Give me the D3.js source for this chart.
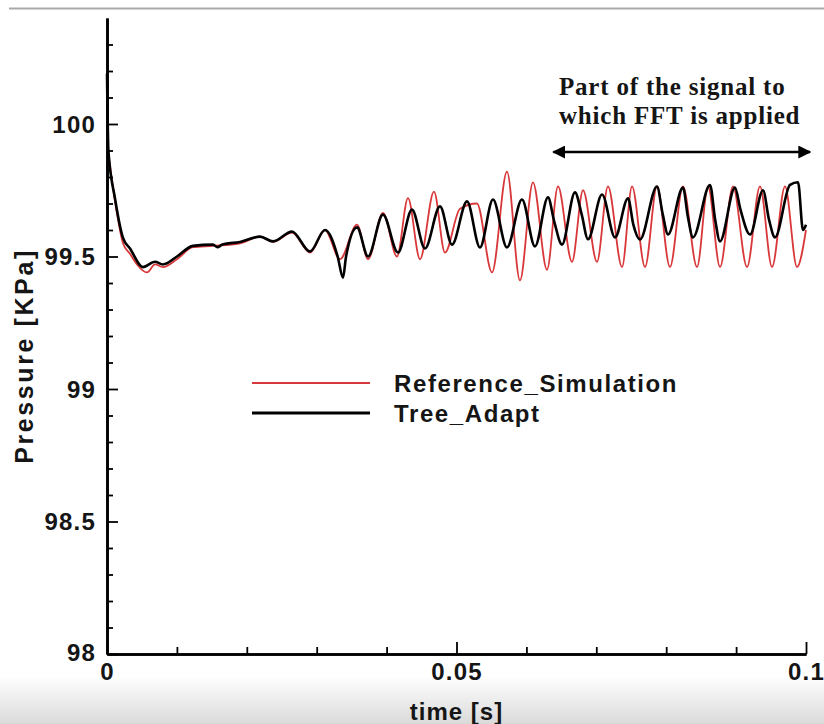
<!DOCTYPE html>
<html>
<head>
<meta charset="utf-8">
<script src="https://cdn.jsdelivr.net/npm/d3@7"></script>
<style>
  html, body { margin: 0; padding: 0; background: #fff; }
  svg { display: block; }
</style>
</head>
<body>
<script>
// ---- data ----
const refTime = [0, 0.00114, 0.00229, 0.00329, 0.00429, 0.00572, 0.00687, 0.00801, 0.01001, 0.0123, 0.01516, 0.01903, 0.02189, 0.02375, 0.02647, 0.02904, 0.03119, 0.03333, 0.03577, 0.03734, 0.03948, 0.04149, 0.04306, 0.04478, 0.04678, 0.04835, 0.0505, 0.05293, 0.05508, 0.05722, 0.05908, 0.06094, 0.06295, 0.06452, 0.06652, 0.0681, 0.0701, 0.07167, 0.07368, 0.07511, 0.07697, 0.07868, 0.08054, 0.0824, 0.08441, 0.08598, 0.0877, 0.08956, 0.09156, 0.09342, 0.09514, 0.097, 0.09871, 0.1];
const refPressure = [99.93, 99.71, 99.55, 99.51, 99.47, 99.44, 99.47, 99.46, 99.49, 99.535, 99.54, 99.55, 99.575, 99.555, 99.59, 99.515, 99.6, 99.49, 99.62, 99.49, 99.665, 99.5, 99.72, 99.49, 99.745, 99.515, 99.68, 99.7, 99.44, 99.82, 99.41, 99.78, 99.45, 99.765, 99.48, 99.75, 99.48, 99.765, 99.46, 99.765, 99.46, 99.765, 99.46, 99.765, 99.46, 99.765, 99.46, 99.765, 99.46, 99.765, 99.46, 99.765, 99.46, 99.6];

const treeTime = [0, 0.0002, 0.00114, 0.00229, 0.00329, 0.00515, 0.00687, 0.00801, 0.01001, 0.0123, 0.01516, 0.0158, 0.0165, 0.01903, 0.02189, 0.02375, 0.02647, 0.02904, 0.03119, 0.033, 0.03376, 0.0342, 0.03577, 0.03734, 0.03948, 0.04163, 0.04363, 0.04549, 0.04764, 0.04936, 0.0515, 0.05336, 0.05522, 0.05722, 0.05937, 0.06123, 0.06309, 0.0640, 0.06509, 0.06695, 0.06790, 0.06881, 0.07082, 0.07268, 0.07454, 0.0753, 0.07625, 0.07868, 0.0795, 0.08026, 0.0824, 0.0831, 0.08383, 0.08627, 0.0870, 0.0877, 0.08984, 0.0906, 0.09199, 0.09385, 0.0947, 0.09557, 0.09771, 0.09886, 0.09957, 0.1];
const treePressure = [100.19, 99.9, 99.72, 99.57, 99.53, 99.46, 99.48, 99.47, 99.5, 99.54, 99.545, 99.535, 99.545, 99.555, 99.575, 99.557, 99.594, 99.519, 99.6, 99.5, 99.42, 99.5, 99.61, 99.5, 99.658, 99.515, 99.677, 99.53, 99.689, 99.545, 99.708, 99.534, 99.715, 99.534, 99.715, 99.538, 99.723, 99.63, 99.545, 99.742, 99.66, 99.565, 99.734, 99.572, 99.72, 99.62, 99.564, 99.764, 99.66, 99.583, 99.76, 99.65, 99.572, 99.77, 99.64, 99.557, 99.76, 99.68, 99.583, 99.75, 99.64, 99.572, 99.77, 99.78, 99.6, 99.62];

const xMajorTicks = [0, 0.05, 0.1];
const xMinorTicks = [0.01, 0.02, 0.03, 0.04, 0.06, 0.07, 0.08, 0.09];
const yMajorTicks = [98, 98.5, 99, 99.5, 100];
const yMinorTicks = [98.1, 98.2, 98.3, 98.4, 98.6, 98.7, 98.8, 98.9, 99.1, 99.2, 99.3, 99.4, 99.6, 99.7, 99.8, 99.9, 100.1, 100.2, 100.3];

const seriesNames = ["Reference_Simulation", "Tree_Adapt"];
const seriesColors = ["#d8383a", "#000000"];
const noteLines = ["Part of the signal to", "which FFT is applied"];
const fftRange = [0.064, 0.1];

// ---- drawing ----
const W = 824, H = 724;
const svg = d3.select("body").append("svg").attr("width", W).attr("height", H);

const defs = svg.append("defs");
const grad = defs.append("linearGradient").attr("id", "bottomGrad")
  .attr("x1", 0).attr("y1", 0).attr("x2", 0).attr("y2", 1);
grad.append("stop").attr("offset", "0%").attr("stop-color", "#ffffff");
grad.append("stop").attr("offset", "100%").attr("stop-color", "#dadada");
svg.append("rect").attr("x", 0).attr("y", 676).attr("width", W).attr("height", H - 676)
  .attr("fill", "url(#bottomGrad)");

const mk = defs.append("marker").attr("id", "arrowHead")
  .attr("viewBox", "0 0 10 10").attr("refX", 9).attr("refY", 5)
  .attr("markerWidth", 5).attr("markerHeight", 5).attr("orient", "auto-start-reverse");
mk.append("path").attr("d", "M0,0 L10,5 L0,10 z").attr("fill", "#000");

// top border line
svg.append("line").attr("x1", 9).attr("x2", W).attr("y1", 8.5).attr("y2", 8.5)
  .attr("stroke", "#a9a9a9").attr("stroke-width", 2);

const x = d3.scaleLinear().domain([0, 0.1]).range([107, 806]);
const y = d3.scaleLinear().domain([98, 100.4]).range([654, 18]);

const fontSans = "'Liberation Sans', Arial, Helvetica, sans-serif";
const fontSerif = "'Liberation Serif', 'Times New Roman', serif";

// lines
const line = d3.line().curve(d3.curveMonotoneX);
const refPts = refTime.map((t, i) => [x(t), y(refPressure[i])]);
const treePts = treeTime.map((t, i) => [x(t), y(treePressure[i])]);
svg.append("path").attr("d", line(refPts)).attr("fill", "none")
  .attr("stroke", seriesColors[0]).attr("stroke-width", 1.8).attr("stroke-linejoin", "round");
svg.append("path").attr("d", line(treePts)).attr("fill", "none")
  .attr("stroke", seriesColors[1]).attr("stroke-width", 2.6).attr("stroke-linejoin", "round");

// axes
const fmtX = d => d === 0 ? "0" : (d === 0.1 ? "0.1" : "0.05");
const xAxisMajor = svg.append("g").attr("transform", `translate(0,${y(98)})`)
  .call(d3.axisBottom(x).tickValues(xMajorTicks).tickSizeInner(-12).tickSizeOuter(0).tickPadding(7).tickFormat(fmtX));
const xAxisMinor = svg.append("g").attr("transform", `translate(0,${y(98)})`)
  .call(d3.axisBottom(x).tickValues(xMinorTicks).tickSizeInner(-7).tickSizeOuter(0).tickFormat(""));
const yAxisMajor = svg.append("g").attr("transform", `translate(${x(0)},0)`)
  .call(d3.axisLeft(y).tickValues(yMajorTicks).tickSizeInner(-11).tickSizeOuter(0).tickPadding(11).tickFormat(d => d3.format("")(d)));
const yAxisMinor = svg.append("g").attr("transform", `translate(${x(0)},0)`)
  .call(d3.axisLeft(y).tickValues(yMinorTicks).tickSizeInner(-6).tickSizeOuter(0).tickFormat(""));

[xAxisMajor, xAxisMinor, yAxisMajor, yAxisMinor].forEach(g => {
  g.selectAll(".domain").attr("stroke", "#000").attr("stroke-width", 2.6);
  g.selectAll(".tick line").attr("stroke", "#000").attr("stroke-width", 1.8);
  g.selectAll("text").attr("font-family", fontSans).attr("font-size", 24)
    .attr("font-weight", "bold").attr("letter-spacing", "1.2px").attr("fill", "#151515");
});
xAxisMajor.selectAll("text").attr("dy", "0.8em");
yAxisMajor.selectAll("text").attr("dy", "0.35em");
yAxisMajor.selectAll(".tick").filter(d => d === 98).select("text").attr("dy", "0.25em");

// axis titles
svg.append("text").attr("x", x(0.05)).attr("y", 720).attr("text-anchor", "middle")
  .attr("font-family", fontSans).attr("font-size", 24).attr("font-weight", "bold")
  .attr("letter-spacing", "1px").attr("fill", "#151515")
  .text("time [s]");
svg.append("text").attr("transform", `translate(33,356) rotate(-90)`)
  .attr("text-anchor", "middle")
  .attr("font-family", fontSans).attr("font-size", 25).attr("font-weight", "bold")
  .attr("letter-spacing", "2.6px").attr("fill", "#151515")
  .text("Pressure [KPa]");

// legend
const legend = svg.append("g");
seriesNames.forEach((name, i) => {
  const ly = 383 + i * 30;
  legend.append("line").attr("x1", 252).attr("x2", 370).attr("y1", ly).attr("y2", ly)
    .attr("stroke", seriesColors[i]).attr("stroke-width", i === 0 ? 2 : 2.8);
  legend.append("text").attr("x", 394).attr("y", ly + 9)
    .attr("font-family", fontSans).attr("font-size", 24).attr("font-weight", "bold")
    .attr("letter-spacing", "1.6px").attr("fill", "#151515")
    .text(name);
});

// annotation
noteLines.forEach((s, i) => {
  svg.append("text").attr("x", 559).attr("y", 95 + i * 29).attr("text-anchor", "start")
    .attr("font-family", fontSerif).attr("font-size", 25).attr("font-weight", "bold")
    .attr("letter-spacing", "0.8px").attr("fill", "#151515")
    .text(s);
});
svg.append("line").attr("x1", x(fftRange[0]) - 1).attr("x2", x(fftRange[1]) + 4)
  .attr("y1", 152).attr("y2", 152).attr("stroke", "#000").attr("stroke-width", 2.6)
  .attr("marker-start", "url(#arrowHead)").attr("marker-end", "url(#arrowHead)");
</script>
</body>
</html>
